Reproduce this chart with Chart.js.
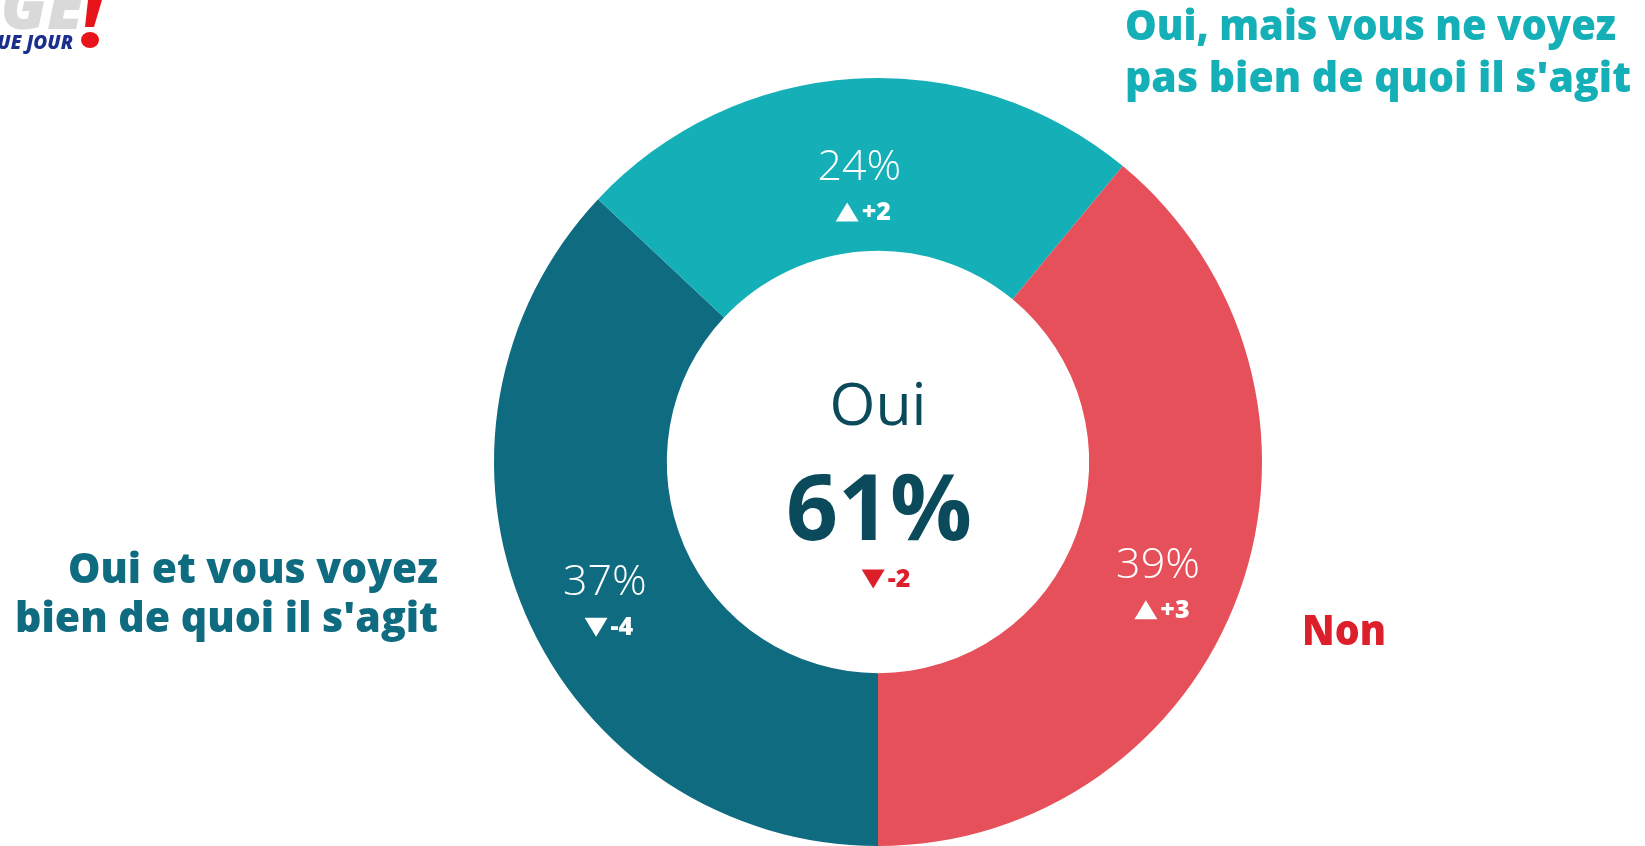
<!DOCTYPE html>
<html lang="fr">
<head>
<meta charset="utf-8">
<title>Oui / Non</title>
<script src="https://cdn.jsdelivr.net/npm/chart.js@4/dist/chart.umd.min.js"></script>
<style>
    html, body { margin: 0; padding: 0; background: #fff; }
    #wrap { position: relative; width: 1645px; height: 846px; overflow: hidden; }
</style>
</head>
<body>
<div id="wrap"><canvas id="donut"></canvas></div>
<script>
const categories = [
    "Oui et vous voyez bien de quoi il s'agit",
    "Oui, mais vous ne voyez pas bien de quoi il s'agit",
    "Non"
];
const shares = [37, 24, 39];
const changes = [-4, 2, 3];
const centerTitle = 'Oui';

const sliceColors = ['#0f6b80', '#14afb7', '#e6505a'];
const upDownRed = '#dc1f2b';

function fmtChange(v) {
    return v > 0 ? `+${v}` : `${v}`;
}

function drawTriangle(ctx, x, y, w, h, up, color) {
    ctx.fillStyle = color;
    ctx.beginPath();
    if (up) {
        ctx.moveTo(x, y + h / 2);
        ctx.lineTo(x + w / 2, y - h / 2);
        ctx.lineTo(x + w, y + h / 2);
    } else {
        ctx.moveTo(x, y - h / 2);
        ctx.lineTo(x + w, y - h / 2);
        ctx.lineTo(x + w / 2, y + h / 2);
    }
    ctx.closePath();
    ctx.fill();
}

// triangle + number, centered on cx
function drawChange(ctx, cx, cy, value, color) {
    ctx.font = '800 25px "Open Sans"';
    const txt = fmtChange(value);
    const tw = ctx.measureText(txt).width;
    const triW = 23, triH = 19, gap = 3;
    const total = triW + gap + tw;
    const x0 = cx - total / 2;
    drawTriangle(ctx, x0, cy, triW, triH, value > 0, color);
    ctx.fillStyle = color;
    ctx.textAlign = 'left';
    ctx.textBaseline = 'middle';
    ctx.fillText(txt, x0 + triW + gap, cy + 1);
}

const labelsPlugin = {
    id: 'sliceLabels',
    afterDatasetsDraw(chart) {
        const ctx = chart.ctx;
        const meta = chart.getDatasetMeta(0);
        ctx.save();

        meta.data.forEach((arc, i) => {
            const pos = arc.tooltipPosition();
            ctx.fillStyle = '#ffffff';
            ctx.font = '300 43px "Open Sans"';
            ctx.textAlign = 'center';
            ctx.textBaseline = 'middle';
            ctx.fillText(`${shares[i]}%`, pos.x, pos.y + 3);
            drawChange(ctx, pos.x + 4, pos.y + 47, changes[i], '#ffffff');
        });

        // centre
        const c = meta.data[0];
        const ouiTotal = shares[0] + shares[1];
        const ouiChange = changes[0] + changes[1];
        ctx.fillStyle = '#0b4a5a';
        ctx.textAlign = 'center';
        ctx.textBaseline = 'alphabetic';
        ctx.font = '400 59px "Open Sans"';
        ctx.fillText(centerTitle, c.x, 425);
        ctx.font = 'bold 91px "Open Sans"';
        ctx.fillText(`${ouiTotal}%`, c.x + 1, 540);
        drawChange(ctx, c.x + 8, 579, ouiChange, upDownRed);

        // outside category labels
        ctx.textBaseline = 'alphabetic';
        ctx.font = '800 43px "Open Sans"';
        ctx.fillStyle = sliceColors[0];
        ctx.textAlign = 'right';
        ctx.fillText('Oui et vous voyez', 438, 583, 370);
        ctx.fillText("bien de quoi il s'agit", 438, 632, 423);

        ctx.fillStyle = sliceColors[1];
        ctx.textAlign = 'left';
        ctx.fillText('Oui, mais vous ne voyez', 1125, 40, 491);
        ctx.fillText("pas bien de quoi il s'agit", 1125, 92, 506);

        ctx.fillStyle = upDownRed;
        ctx.fillText(categories[2], 1302, 645, 84);

        // logo fragment top-left
        ctx.font = 'italic 900 66px "Open Sans"';
        ctx.fillStyle = '#d9d9d9';
        ctx.textAlign = 'right';
        ctx.fillText('GE', 84, 29);
        ctx.font = 'italic 800 19px "Open Sans"';
        ctx.fillStyle = '#1b2f8f';
        ctx.fillText('UE JOUR', 73, 49);
        ctx.fillStyle = '#e8141c';
        ctx.beginPath();
        ctx.moveTo(88, 0);
        ctx.lineTo(102, 0);
        ctx.lineTo(94, 27);
        ctx.lineTo(85, 27);
        ctx.closePath();
        ctx.fill();
        ctx.beginPath();
        ctx.ellipse(90, 40, 9, 8, 0, 0, Math.PI * 2);
        ctx.fill();

        ctx.restore();
    }
};

new Chart(document.getElementById('donut').getContext('2d'), {
    type: 'doughnut',
    data: {
        labels: categories,
        datasets: [{
            data: shares,
            backgroundColor: sliceColors,
            borderWidth: 0,
            hoverOffset: 0
        }]
    },
    options: {
        responsive: true,
        maintainAspectRatio: false,
        animation: false,
        rotation: 180,
        cutout: '55%',
        layout: {
            padding: { left: 494, right: 383, top: 78, bottom: 0 }
        },
        plugins: {
            legend: { display: false },
            tooltip: { enabled: false }
        }
    },
    plugins: [labelsPlugin]
});
</script>
</body>
</html>
